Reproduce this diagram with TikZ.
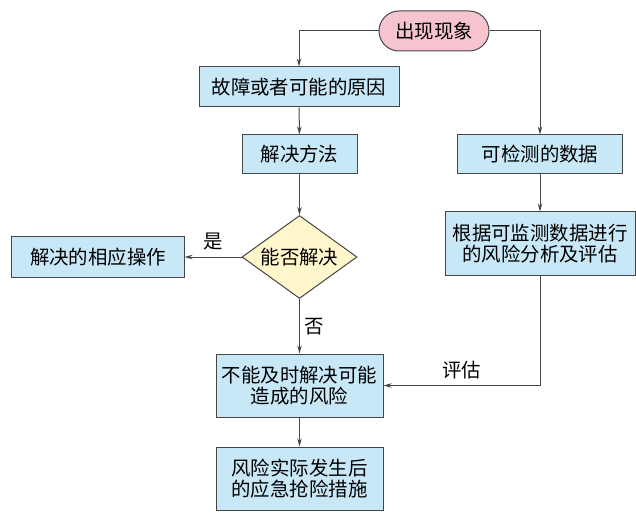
\documentclass[tikz,border=0pt]{standalone}
\usepackage{fontspec}
\setmainfont{Noto Sans CJK SC}
\usetikzlibrary{arrows.meta,shapes.geometric}
\definecolor{boxblue}{RGB}{200,232,248}
\definecolor{pillpink}{RGB}{246,196,206}
\definecolor{diayellow}{RGB}{255,246,204}
\definecolor{linegray}{RGB}{70,70,70}
\begin{document}
\begin{tikzpicture}[x=1bp, y=-1bp,
  font=\fontsize{19.5}{21.5}\selectfont,
  box/.style={draw=linegray, line width=1bp, fill=boxblue, inner sep=0pt, align=center},
  pill/.style={draw=linegray, line width=1bp, fill=pillpink, rounded corners=20bp, minimum width=110bp, minimum height=40bp},
  decide/.style={diamond, aspect=1.4, draw=linegray, line width=1bp, fill=diayellow, inner sep=0pt, minimum width=115bp, minimum height=83bp},
  link/.style={draw=linegray, line width=1bp, -{Stealth[length=8bp,width=4.5bp]}}]
\useasboundingbox (0,0) rectangle (636,522);
\node[pill] (xian) at (434,31) {出现现象};
\node[box, minimum width=200bp, minimum height=40bp] (yuanyin) at (299,87) {故障或者可能的原因};
\node[box, minimum width=115bp, minimum height=39bp] (fangfa) at (299.5,154.5) {解决方法};
\node[box, minimum width=165bp, minimum height=39bp] (jiance) at (540,154.5) {可检测的数据};
\node[decide] (panduan) at (299.5,257) {能否解决};
\node[box, minimum width=172bp, minimum height=40bp] (caozuo) at (98,257) {解决的相应操作};
\node[box, minimum width=190bp, minimum height=63bp] (fenxi) at (540,243.5) {根据可监测数据进行\\的风险分析及评估};
\node[box, minimum width=167bp, minimum height=63bp] (fengxian) at (299.5,385.5) {不能及时解决可能\\造成的风险};
\node[box, minimum width=167bp, minimum height=63bp] (cuoshi) at (299.5,478.5) {风险实际发生后\\的应急抢险措施};
\draw[link] (xian.west) -| (yuanyin.north);
\draw[link] (xian.east) -| (jiance.north);
\draw[link] (yuanyin) -- (fangfa);
\draw[link] (fangfa) -- (panduan);
\draw[link] (panduan.west) -- node[midway, above=3bp] (shi) {是} (caozuo.east);
\draw[link] (panduan.south) -- node[midway, right=1bp] (fou) {否} (fengxian.north);
\draw[link] (jiance) -- (fenxi);
\draw[link] (fenxi.south) |- node[pos=0.75, above=3bp] (pinggu) {评估} (fengxian.east);
\draw[link] (fengxian) -- (cuoshi);
\end{tikzpicture}
\end{document}
